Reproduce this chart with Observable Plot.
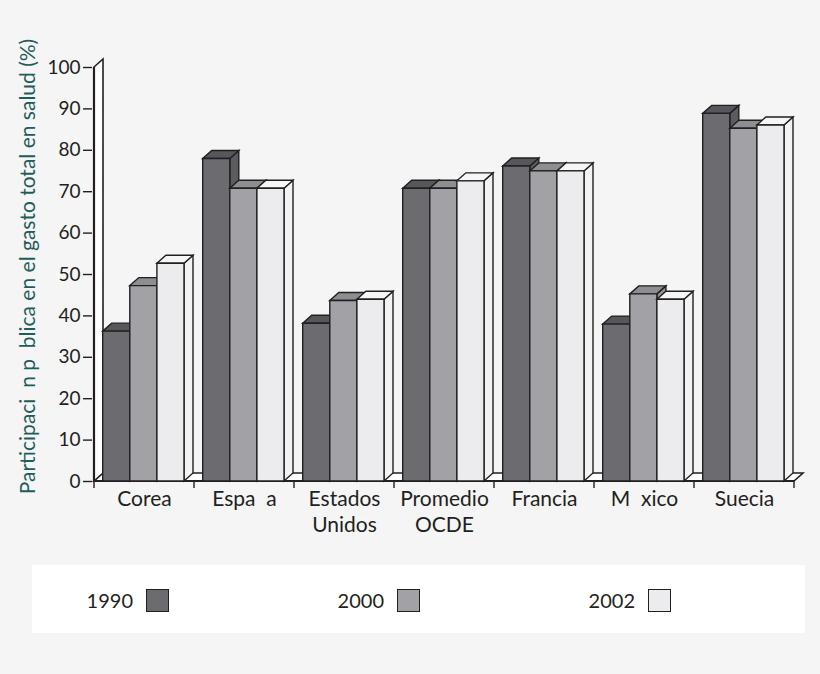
<!DOCTYPE html>
<html>
<head>
<meta charset="utf-8">
<script src="https://cdn.jsdelivr.net/npm/d3@7"></script>
<script src="https://cdn.jsdelivr.net/npm/@observablehq/plot@0.6"></script>
<style>
  body { margin: 0; background: #f5f5f5; font-family: Lato, "Open Sans", sans-serif; }
  #chart { position: relative; width: 820px; height: 674px; }
  .legend { position: absolute; left: 32px; top: 565px; width: 773px; height: 68px; background: #ffffff; }
  .item { position: absolute; top: 23px; height: 24px; display: flex; align-items: center; color: #231f20; font-size: 20px; }
  .item span { display: inline-block; width: 50px; text-align: right; }
  .sw { width: 21px; height: 21px; border: 1.5px solid #231f20; margin-left: 13px; }
</style>
</head>
<body>
<div id="chart"></div>
<script>
// Categories, series and axis labels
const categories = ["Corea", "Espa\u00a0\u00a0a", "Estados\nUnidos", "Promedio\nOCDE", "Francia", "M\u00a0\u00a0xico", "Suecia"];
const years = ["1990", "2000", "2002"];
const values1990 = [36.2, 77.9, 38.1, 70.7, 76.1, 37.9, 88.8];
const values2000 = [47.2, 70.7, 43.6, 70.7, 74.9, 45.2, 85.2];
const values2002 = [52.6, 70.7, 43.9, 72.5, 74.9, 43.9, 86.0];
const yTicks = [0, 10, 20, 30, 40, 50, 60, 70, 80, 90, 100];
const yLabel = "Participaci\u00a0\u00a0n p\u00a0\u00a0blica en el gasto total en salud (%)";

// Face colours per series: front, top, side
const faces = {
  "1990": {front: "#6c6b70", top: "#57565b", side: "#5c5b60"},
  "2000": {front: "#a2a1a6", top: "#8e8d92", side: "#939297"},
  "2002": {front: "#ececee", top: "#f6f6f7", side: "#f3f3f4"}
};

const series = [values1990, values2000, values2002];
const rows = [];
categories.forEach((c, i) => years.forEach((yr, j) => rows.push({category: c, year: yr, slot: j, value: series[j][i]})));

const DX = 9, DY = -8;          // depth offset of the 3D extrusion
const INK = "#231f20";

function poly(g, pts, fill, sw = 1.4) {
  g.append("path")
    .attr("d", "M" + pts.map(p => p.join(",")).join("L") + "Z")
    .attr("fill", fill)
    .attr("stroke", INK)
    .attr("stroke-width", sw)
    .attr("stroke-linejoin", "miter");
}

// Custom render mark: floor, back wall and extruded bars, placed with Plot's scales
function bars3d(index, scales) {
  const {x, y} = scales;
  const bw = x(categories[1]) - x(categories[0]);
  const g = d3.create("svg:g");
  const y0 = y(0), yTop = y(100);
  const xa = x(categories[0]);
  const xb = x(categories[categories.length - 1]) + bw;

  // floor
  poly(g, [[xa, y0], [xb, y0], [xb + DX, y0 + DY], [xa + DX, y0 + DY]], "#ffffff", 1.6);
  // left wall
  poly(g, [[xa, y0], [xa + DX, y0 + DY], [xa + DX, yTop + DY], [xa, yTop]], "#ffffff", 1.6);
  g.append("line").attr("x1", xa).attr("x2", xa).attr("y1", y0).attr("y2", yTop)
    .attr("stroke", INK).attr("stroke-width", 2.2);
  g.append("line").attr("x1", xa).attr("x2", xb).attr("y1", y0).attr("y2", y0)
    .attr("stroke", INK).attr("stroke-width", 2.2);

  // category boundary ticks
  for (let k = 0; k <= categories.length; k++) {
    const xx = k < categories.length ? x(categories[k]) : xb;
    g.append("line").attr("x1", xx).attr("x2", xx).attr("y1", y0).attr("y2", y0 + 7)
      .attr("stroke", INK).attr("stroke-width", 1.4);
  }

  // bars, left to right so each front face covers its neighbour's side
  const w = 0.271 * bw;
  for (const r of rows) {
    const f = faces[r.year];
    const l = x(r.category) + 0.087 * bw + r.slot * w;
    const t = y(r.value);
    poly(g, [[l + w, y0], [l + w + DX, y0 + DY], [l + w + DX, t + DY], [l + w, t]], f.side);
    poly(g, [[l, t], [l + DX, t + DY], [l + w + DX, t + DY], [l + w, t]], f.top);
    poly(g, [[l, y0], [l, t], [l + w, t], [l + w, y0]], f.front);
  }
  return g.node();
}

const chart = Plot.plot({
  width: 820,
  height: 560,
  marginLeft: 92,
  marginRight: 24,
  marginTop: 67,
  marginBottom: 79,
  style: {background: "transparent", fontFamily: "Lato, 'Open Sans', sans-serif", color: INK},
  x: {type: "band", domain: categories, padding: 0, label: null},
  y: {domain: [0, 100], label: null},
  marks: [
    bars3d,
    Plot.axisY(yTicks, {tickSize: 9, tickPadding: 3, fontSize: 19, strokeWidth: 1.4, label: null}),
    Plot.axisX({tickSize: 0, tickPadding: 5, fontSize: 21, lineHeight: 1.28, label: null}),
    // rotated y-axis title
    Plot.text([yLabel], {
      frameAnchor: "left", textAnchor: "middle", rotate: -90, dx: -64, dy: -8,
      fontSize: 21, fill: "#1f5d5c", text: d => d
    })
  ]
});

const root = document.getElementById("chart");
root.appendChild(chart);

// Legend
const legend = document.createElement("div");
legend.className = "legend";
const swatchLeft = [114, 365, 616];
years.forEach((yr, j) => {
  const item = document.createElement("div");
  item.className = "item";
  item.style.left = (swatchLeft[j] - 63) + "px";
  item.innerHTML = `<span>${yr}</span><div class="sw" style="background:${faces[yr].front}"></div>`;
  legend.appendChild(item);
});
root.appendChild(legend);
</script>
</body>
</html>
